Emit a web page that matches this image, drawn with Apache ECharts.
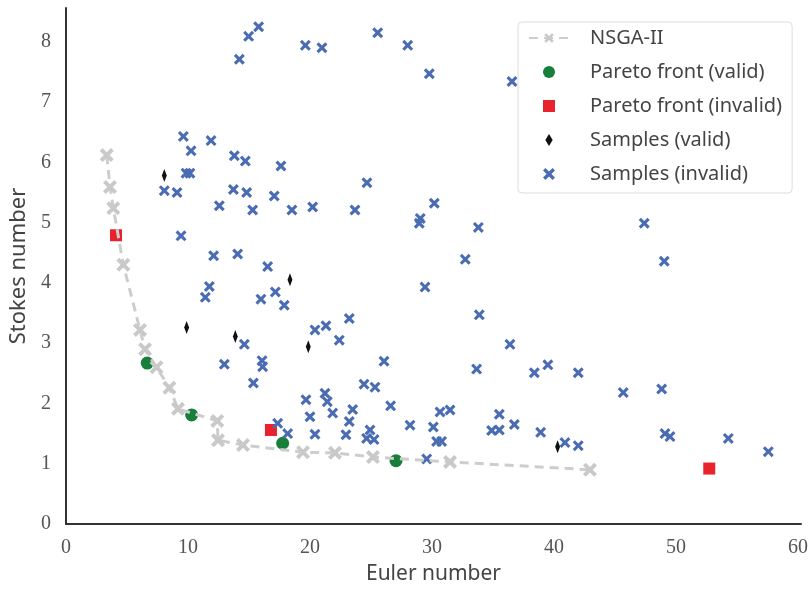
<!DOCTYPE html>
<html>
<head>
<meta charset="utf-8">
<script src="https://cdn.jsdelivr.net/npm/echarts@6/dist/echarts.min.js"></script>
<style>
  html, body { margin: 0; padding: 0; background: #ffffff; }
  #chart { width: 811px; height: 591px; }
</style>
</head>
<body>
<div id="chart"></div>
<script>
// [Euler number, Stokes number] pairs
const nsgaPoints = [
  [3.34, 6.12], [3.61, 5.59], [3.88, 5.24], [4.70, 4.30], [6.07, 3.22],
  [6.48, 2.90], [7.42, 2.60], [8.48, 2.26], [9.18, 1.91], [12.40, 1.71],
  [12.46, 1.39], [14.51, 1.31], [19.43, 1.19], [22.05, 1.18], [25.16, 1.11],
  [31.48, 1.03], [42.95, 0.90]
];
const paretoValid = [[6.66, 2.67], [10.30, 1.81], [17.76, 1.34], [27.05, 1.05]];
const paretoInvalid = [[4.10, 4.79], [16.80, 1.56], [52.73, 0.92]];
const samplesValid = [[8.06, 5.78], [9.89, 3.26], [13.88, 3.11], [18.36, 4.05], [19.86, 2.94], [40.30, 1.28]];
const samplesInvalid = [
  [15.79, 8.25], [14.97, 8.09], [14.21, 7.71], [19.62, 7.94], [20.98, 7.90],
  [25.55, 8.15], [28.01, 7.94], [29.78, 7.47], [36.56, 7.34],
  [9.62, 6.43], [11.89, 6.36], [10.25, 6.19], [13.80, 6.11], [14.70, 6.02],
  [17.62, 5.94], [9.84, 5.82], [10.16, 5.82], [8.06, 5.53], [9.10, 5.50],
  [13.72, 5.55], [14.81, 5.50], [17.07, 5.44], [12.57, 5.28], [15.30, 5.21],
  [18.52, 5.21], [20.22, 5.26], [23.69, 5.21], [24.67, 5.66], [30.19, 5.32],
  [29.04, 5.07], [28.96, 4.99], [33.80, 4.92], [32.73, 4.39], [47.40, 4.99],
  [49.04, 4.36],
  [9.43, 4.78], [12.10, 4.45], [14.07, 4.48], [16.53, 4.27],
  [11.75, 3.94], [11.42, 3.76], [15.98, 3.73], [17.16, 3.85], [17.89, 3.63],
  [20.41, 3.22], [21.31, 3.29], [23.22, 3.41], [22.40, 3.05], [29.43, 3.93],
  [33.88, 3.47], [36.39, 2.98], [33.66, 2.57], [38.39, 2.51], [39.50, 2.64],
  [41.99, 2.51], [45.68, 2.18], [48.83, 2.24],
  [14.62, 2.98], [12.98, 2.65], [16.07, 2.71], [16.12, 2.61], [15.36, 2.34],
  [26.07, 2.70], [24.43, 2.32], [25.33, 2.27],
  [19.67, 2.06], [20.00, 1.78], [17.35, 1.67], [18.17, 1.50], [20.41, 1.49],
  [21.23, 2.17], [21.42, 2.03], [21.86, 1.84], [23.50, 1.90], [23.22, 1.70],
  [22.95, 1.48], [24.92, 1.56], [24.64, 1.42], [25.25, 1.40], [26.61, 1.96],
  [28.20, 1.64], [30.11, 1.61], [30.66, 1.86], [31.48, 1.89], [30.38, 1.37],
  [30.79, 1.37], [29.57, 1.08], [35.52, 1.82], [34.89, 1.55], [35.52, 1.56],
  [36.75, 1.65], [38.91, 1.52], [40.90, 1.35], [41.99, 1.30], [49.10, 1.50],
  [49.51, 1.45], [54.29, 1.42], [57.57, 1.20]
];
const xTicks = [0, 10, 20, 30, 40, 50, 60];
const yTicks = [0, 1, 2, 3, 4, 5, 6, 7, 8];

// marker shapes: filled "X", square, thin diamond
const crossMark = 'path://M0,2L2,0L5,3L8,0L10,2L7,5L10,8L8,10L5,7L2,10L0,8L3,5Z';
const squareMark = 'path://M0,0L10,0L10,10L0,10Z';
const thinDiamond = 'path://M4,0L8,6.5L4,13L0,6.5Z';

const tickFont = { fontFamily: 'Liberation Serif', fontSize: 20, color: '#555555' };

const chart = echarts.init(document.getElementById('chart'), null, { renderer: 'canvas' });
chart.setOption({
  animation: false,
  backgroundColor: '#ffffff',
  grid: { left: 66, right: 10, top: 8, bottom: 67, containLabel: false },
  legend: {
    orient: 'vertical',
    left: 518,
    top: 22,
    padding: [6, 10, 9, 10],
    itemWidth: 40,
    itemHeight: 12,
    itemGap: 14,
    symbolKeepAspect: true,
    backgroundColor: 'rgba(255,255,255,0.9)',
    borderColor: '#dddddd',
    borderWidth: 1,
    borderRadius: 4,
    textStyle: { fontFamily: 'Noto Sans', fontSize: 20, color: '#444444', padding: [0, 0, 0, 16] },
    data: ['NSGA-II', 'Pareto front (valid)', 'Pareto front (invalid)', 'Samples (valid)', 'Samples (invalid)']
  },
  xAxis: {
    type: 'value',
    min: 0,
    max: 60.25,
    interval: 10,
    name: 'Euler number',
    nameLocation: 'middle',
    nameGap: 40,
    nameTextStyle: { fontFamily: 'Noto Sans', fontSize: 21, color: '#444444' },
    axisLine: { show: true, lineStyle: { color: '#333333', width: 2 } },
    axisTick: { show: false },
    splitLine: { show: false },
    axisLabel: Object.assign({
      margin: 14,
      formatter: v => (xTicks.includes(v) ? String(v) : '')
    }, tickFont)
  },
  yAxis: {
    type: 'value',
    min: 0,
    max: 8.56,
    interval: 1,
    name: 'Stokes number',
    nameLocation: 'middle',
    nameGap: 35,
    nameTextStyle: { fontFamily: 'Noto Sans', fontSize: 22, color: '#444444' },
    axisLine: { show: true, lineStyle: { color: '#333333', width: 2 } },
    axisTick: { show: false },
    splitLine: { show: false },
    axisLabel: Object.assign({
      margin: 15,
      formatter: v => (yTicks.includes(v) ? String(v) : '')
    }, tickFont)
  },
  series: [
    {
      name: 'NSGA-II',
      type: 'line',
      data: nsgaPoints,
      symbol: crossMark,
      symbolSize: 14,
      symbolKeepAspect: true,
      showAllSymbol: true,
      itemStyle: { color: '#c9c9c9' },
      lineStyle: { color: '#cdcdcd', width: 3, type: [9, 6] }
    },
    {
      name: 'Pareto front (valid)',
      type: 'scatter',
      data: paretoValid,
      symbol: 'circle',
      symbolSize: 13,
      symbolKeepAspect: true,
      itemStyle: { color: '#177f3a', opacity: 1 }
    },
    {
      name: 'Pareto front (invalid)',
      type: 'scatter',
      data: paretoInvalid,
      symbol: squareMark,
      symbolSize: 12,
      symbolKeepAspect: true,
      itemStyle: { color: '#e8232b', opacity: 1 }
    },
    {
      name: 'Samples (valid)',
      type: 'scatter',
      data: samplesValid,
      symbol: thinDiamond,
      symbolSize: [8, 13],
      symbolKeepAspect: true,
      itemStyle: { color: '#111111', opacity: 1 }
    },
    {
      name: 'Samples (invalid)',
      type: 'scatter',
      data: samplesInvalid,
      symbol: crossMark,
      symbolSize: 11,
      symbolKeepAspect: true,
      itemStyle: { color: '#4a6cb3', opacity: 1 }
    }
  ]
});
</script>
</body>
</html>
